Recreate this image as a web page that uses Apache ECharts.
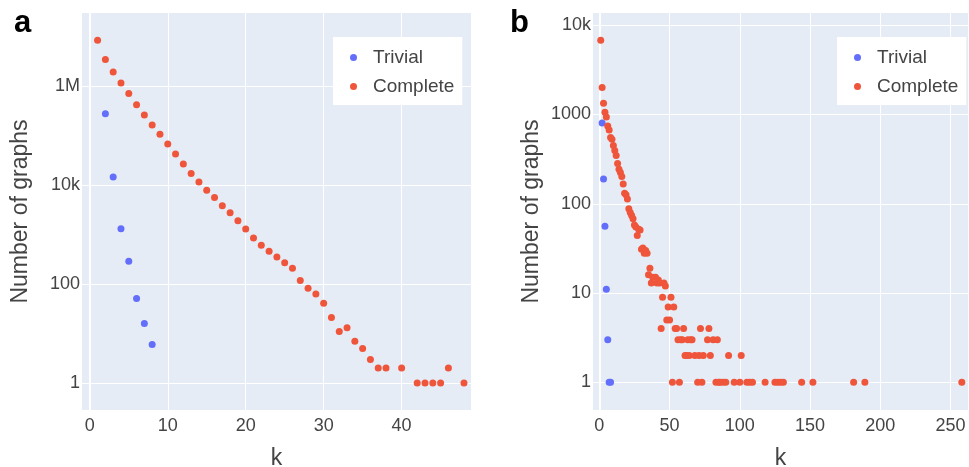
<!DOCTYPE html>
<html><head><meta charset="utf-8">
<script src="https://cdn.jsdelivr.net/npm/echarts@6/dist/echarts.min.js"></script>
<style>html,body{margin:0;padding:0;background:#fff}#c{width:969px;height:467px}</style>
</head><body><div id="c"></div>
<script>
const legendNames = ['Trivial', 'Complete'];

// Panel a
const aTrivialK = [2, 3, 4, 5, 6, 7, 8];
const aTrivialN = [275000, 14500, 1310, 287, 51, 16, 6];
const aCompleteK = [1,2,3,4,5,6,7,8,9,10,11,12,13,14,15,16,17,18,19,20,21,22,23,24,25,26,27,28,29,30,31,32,33,34,35,36,37,38,40,42,43,44,45,46,48];
const aCompleteN = [8400000,3400000,1920000,1150000,700000,419000,260000,163000,106000,67000,42000,26500,17000,11500,7800,5600,3800,2750,1900,1290,850,605,458,351,269,208,117,82,63,41,21,11,13,7,5,3,2,2,2,1,1,1,1,2,1];
const aXTicks = [0, 10, 20, 30, 40];
const aYTickValues = [1, 100, 10000, 1000000];
const aYTickLabels = ['1', '100', '10k', '1M'];

// Panel b
const bTrivialK = [2, 3, 4, 5, 6, 7, 8];
const bTrivialN = [805, 190, 56, 11, 3, 1, 1];
const bCompleteK = [1,2,3,4,5,6,7,8,9,10,11,12,13,14,15,16,17,18,19,20,21,22,23,24,25,26,27,28,29,30,31,32,33,34,35,36,37,38,40,41,42,43,44,45,46,47,48,49,50,51,52,53,54,55,56,57,58,59,60,61,62,63,64,65,66,68,70,71,72,73,74,77,78,79,81,83,84,85,86,88,90,92,96,100,101,105,107,109,118,125,127,129,131,144,152,181,189,258];
const bCompleteN = [6800,2000,1340,1060,940,745,672,551,529,449,394,347,283,244,224,202,166,131,126,113,88,80,74,68,58,55,44,52,51,31,32,28,30,28,16,19,13,15,15,13,14,13,4,9,13,12,5,7,5,9,1,7,4,4,3,1,3,3,4,2,2,3,2,3,3,2,1,2,4,1,2,3,4,2,3,1,3,1,1,1,1,2,1,1,2,1,1,1,1,1,1,1,1,1,1,1,1,1];
const bXTicks = [0, 50, 100, 150, 200, 250];
const bYTickValues = [1, 10, 100, 1000, 10000];
const bYTickLabels = ['1', '10', '100', '1000', '10k'];

const FONT = '"Liberation Sans", Arial, sans-serif';
const TXT = '#444';
const BLUE = '#636EFA';
const RED = '#EF553B';

function pairs(ks, ns) { return ks.map((k, i) => [k, ns[i]]); }
function xFmt(ticks) {
  return v => { for (const t of ticks) if (Math.abs(v - t) < 1e-6) return String(t); return ''; };
}
function yFmt(vals, labs) {
  return v => { for (let i = 0; i < vals.length; i++) if (Math.abs(Math.log10(v) - Math.log10(vals[i])) < 1e-6) return labs[i]; return ''; };
}

function xAxis(grid, min, max, ticks) {
  return {
    gridIndex: grid, type: 'value', min: min, max: max, splitNumber: 5,
    name: 'k', nameLocation: 'middle', nameGap: 37,
    nameTextStyle: { fontSize: 23, color: TXT, fontFamily: FONT },
    axisLine: { show: false, onZero: false }, axisTick: { show: false },
    axisLabel: { fontSize: 18, color: TXT, fontFamily: FONT, margin: 7, formatter: xFmt(ticks) },
    splitLine: { show: true, showMinLine: false, showMaxLine: false, lineStyle: { color: '#fff', width: 1 } }
  };
}
function yAxis(grid, min, max, base, vals, labs) {
  return {
    gridIndex: grid, type: 'log', logBase: base, min: min, max: max, position: 'left',
    name: 'Number of graphs', nameLocation: 'middle', nameGap: 50,
    nameTextStyle: { fontSize: 23, color: TXT, fontFamily: FONT },
    axisLine: { show: false, onZero: false }, axisTick: { show: false },
    axisLabel: { fontSize: 18, color: TXT, fontFamily: FONT, margin: 2, formatter: yFmt(vals, labs) },
    splitLine: { show: true, showMinLine: false, showMaxLine: false, lineStyle: { color: '#fff', width: 1 } }
  };
}
function zeroAxis(grid) {
  return {
    gridIndex: grid, type: 'value', min: 0, max: 1, position: 'left',
    axisLine: { show: true, onZero: true, lineStyle: { color: '#fff', width: 2 } },
    axisTick: { show: false }, axisLabel: { show: false }, splitLine: { show: false }
  };
}
function legend(left) {
  return {
    orient: 'vertical', left: left, top: 37, padding: [11, 8, 9, 17],
    backgroundColor: '#fff', borderWidth: 0, itemWidth: 7, itemHeight: 7, itemGap: 10,
    icon: 'circle', selectedMode: false,
    textStyle: { fontSize: 19, color: TXT, fontFamily: FONT, padding: [0, 0, 0, 11] },
    data: legendNames
  };
}
function scatter(name, x, y, ks, ns, color, z) {
  return {
    type: 'scatter', name: name, xAxisIndex: x, yAxisIndex: y, data: pairs(ks, ns),
    symbol: 'circle', symbolSize: 7, itemStyle: { color: color, opacity: 1 }, z: z,
    emphasis: { disabled: true }, animation: false
  };
}

const chart = echarts.init(document.getElementById('c'), null, { renderer: 'canvas' });
chart.setOption({
  animation: false,
  backgroundColor: '#fff',
  textStyle: { fontFamily: FONT },
  grid: [
    { left: 82, top: 13, width: 389, height: 397, show: true, backgroundColor: '#E5ECF6', borderWidth: 0, containLabel: false, outerBoundsMode: 'none' },
    { left: 593, top: 13, width: 375, height: 397, show: true, backgroundColor: '#E5ECF6', borderWidth: 0, containLabel: false, outerBoundsMode: 'none' }
  ],
  xAxis: [xAxis(0, -1.0, 48.9, aXTicks), xAxis(1, -4.5, 262.4, bXTicks)],
  yAxis: [
    yAxis(0, 0.285, 2.97e7, 100, aYTickValues, aYTickLabels),
    yAxis(1, 0.49, 13700, 10, bYTickValues, bYTickLabels),
    zeroAxis(0), zeroAxis(1)
  ],
  legend: [legend(333), legend(837)],
  graphic: [
    { type: 'text', left: 14, top: 8, style: { text: 'a', font: 'bold 31px ' + FONT, fill: '#000' } },
    { type: 'text', left: 510, top: 8, style: { text: 'b', font: 'bold 31px ' + FONT, fill: '#000' } }
  ],
  series: [
    scatter('Trivial', 0, 0, aTrivialK, aTrivialN, BLUE, 2),
    scatter('Complete', 0, 0, aCompleteK, aCompleteN, RED, 3),
    scatter('Trivial', 1, 1, bTrivialK, bTrivialN, BLUE, 2),
    scatter('Complete', 1, 1, bCompleteK, bCompleteN, RED, 3)
  ]
});
</script></body></html>
